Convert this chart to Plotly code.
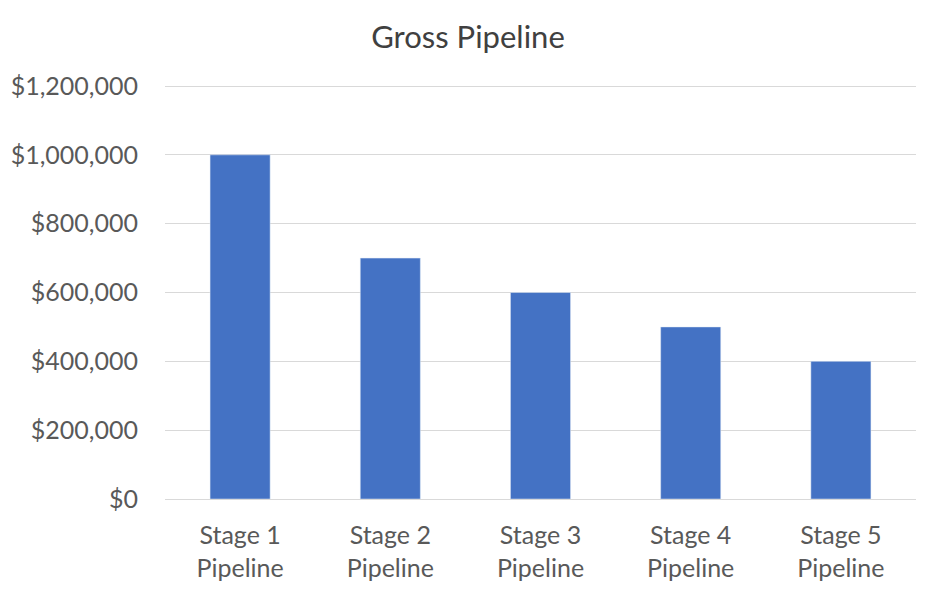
import plotly.graph_objects as go

categories = ["Stage 1<br>Pipeline", "Stage 2<br>Pipeline", "Stage 3<br>Pipeline",
              "Stage 4<br>Pipeline", "Stage 5<br>Pipeline"]
values = [1000000, 700000, 600000, 500000, 400000]
tick_vals = [0, 200000, 400000, 600000, 800000, 1000000, 1200000]
tick_text = ["$0", "$200,000", "$400,000", "$600,000", "$800,000", "$1,000,000", "$1,200,000"]

fig = go.Figure(go.Bar(x=categories, y=values, marker_color="#4472C4", width=0.4))

fig.update_layout(
    width=936, height=598,
    paper_bgcolor="white", plot_bgcolor="white",
    margin=dict(l=165, r=20, t=85, b=99),
    title=dict(text="Gross Pipeline", x=0.5, xanchor="center", y=1 - 37/598, yanchor="middle",
               font=dict(family="Lato", size=31, color="#404040")),
    font=dict(family="Lato", size=25, color="#595959"),
    showlegend=False,
    bargap=0.6,
)
fig.update_yaxes(range=[0, 1203000], tickvals=tick_vals, ticktext=tick_text,
                 showgrid=True, gridcolor="#D9D9D9", gridwidth=1, zeroline=False,
                 ticklabelstandoff=26, showline=False)
fig.update_xaxes(showline=True, linecolor="#D9D9D9", linewidth=1, ticklabelstandoff=14)

fig.write_html("out.html")
